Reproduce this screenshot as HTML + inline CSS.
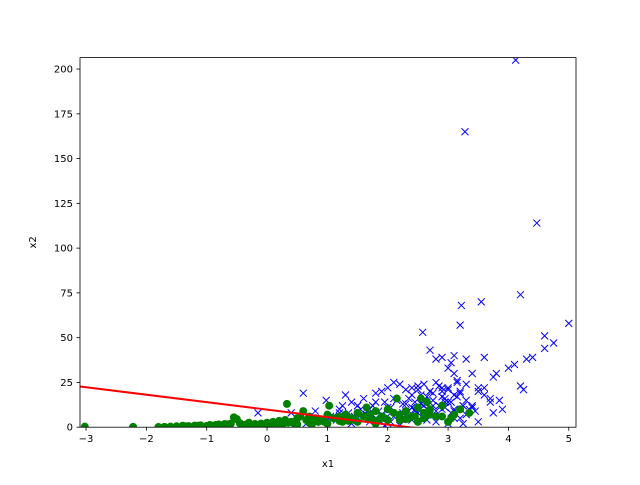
<!DOCTYPE html>
<html><head><meta charset="utf-8"><style>
body{margin:0;background:#fff;}
svg text{font-family:"DejaVu Sans","Liberation Sans",sans-serif;font-size:10px;fill:#000;}
</style></head><body>
<svg id="chart" width="640" height="480" xmlns="http://www.w3.org/2000/svg">
<rect width="640" height="480" fill="#fff"/>
<g id="marks"></g>
<g id="axes"></g>
</svg>
<script>
const xTicks=[-3,-2,-1,0,1,2,3,4,5];
const yTicks=[0,25,50,75,100,125,150,175,200];
const blueX=[4.12,3.28,4.47,4.2,3.55,3.22,3.2,2.58,5.0,4.6,4.75,4.6,4.4,4.3,4.1,4.0,4.2,4.25,3.85,3.75,3.75,3.8,3.6,3.5,3.3,3.1,3.05,2.7,2.8,2.9,3.0,3.1,0.6,0.98,-0.15,0.4,0.8,
1.3,1.4,1.5,1.6,1.7,1.8,1.9,2.0,2.1,2.2,2.3,2.4,2.5,2.6,2.7,2.8,2.9,3.0,3.1,3.2,3.3,3.4,3.5,3.6,3.7,
1.35,1.45,1.55,1.65,1.75,1.85,1.95,2.05,2.15,2.25,2.35,2.45,2.55,2.65,2.75,2.85,2.95,3.05,3.15,3.25,3.35,3.45,
1.0,1.1,1.2,1.25,1.5,1.7,1.9,2.1,2.3,2.5,2.7,2.9,3.1,3.3,3.5,2.0,2.2,2.4,2.6,2.8,3.0,3.2,2.6,2.75,2.9,3.15,3.4,3.6,3.7,3.9,
0.7,0.9,1.05,1.15,1.6,1.8,2.05,2.25,2.45,2.65,2.85,3.05,3.25,2.4,2.55,2.7,2.95,3.1,1.4,1.95,
0.5,0.65,0.85,1.0,1.15,1.3,1.45,1.6,1.75,1.9,2.05,2.2,2.35,2.5,2.65,2.8,2.95,3.1,3.25,3.4,
1.2,1.5,1.8,2.1,2.4,2.7,3.0,3.3,2.3,2.6,2.9,3.2,2.0,2.5,2.85,3.15,2.2,2.45,2.75,3.0];
const blueY=[205,165,114,74,70,68,57,53,58,51,47,44,39,38,35,33,23,21,15,8,28,30,39,20,38,40,36,43,38,39,33,30,19,15,8,8,9,
18,14,12,16,10,19,20,22,25,24,21,22,23,24,20,25,22,21,18,20,15,12,22,18,14,
8,6,10,7,12,9,14,11,15,13,16,14,18,17,19,12,16,14,17,12,10,9,
4,6,8,12,5,3,7,6,9,4,8,10,5,7,3,2,1,4,6,3,2,5,12,15,20,25,30,22,16,10,
5,3,6,4,7,5,3,8,10,4,6,8,2,11,13,7,14,9,2,1,
3,2,4,3,5,4,6,5,7,6,8,7,9,8,10,9,11,10,12,11,
10,12,14,16,18,20,22,24,13,15,17,19,11,21,23,26,6,9,12,14];
const greenX=[-3.02,-2.22,-1.8,-1.7,-1.6,-1.5,-1.4,-1.3,-1.2,-1.1,-1.0,-0.95,-0.9,-0.8,-0.75,-0.7,-0.6,-0.55,-0.5,-0.45,-0.4,-0.3,-0.2,-0.1,0,0.1,0.15,0.2,0.3,0.33,0.4,0.5,0.55,0.6,0.65,0.7,0.8,0.9,1.0,1.03,1.1,1.2,1.3,1.4,1.5,1.6,1.65,1.7,1.8,1.9,2.0,2.1,2.15,2.2,2.3,2.4,2.5,2.55,2.6,2.7,2.8,2.9,3.0,3.05,3.1,3.2,3.35,2.0,1.5,1.0,0.5,2.5,1.8,2.2,0.25,0.75,1.25,1.75,2.35,2.65,-0.25,-0.65,0.05,
-1.35,-1.15,-0.85,-0.65,-0.35,-0.15,0.0,0.2,0.45,0.7,0.95,1.2,1.45,1.7,1.95,2.2,2.45,2.7,0.35,0.85,1.35,1.85,2.3,2.6,2.9];
const greenY=[0.3,0.2,0.1,0.2,0.3,0.5,0.8,0.6,0.9,1.0,0.7,1.2,0.9,1.5,1.0,1.8,2.0,5.5,4.5,2.2,1.3,2.5,1.8,2.0,2.5,3,2,3.5,4,13,3,5,6,9,4,6,5,4,7,12,5,6,7,5,8,6,11,7,9,6,10,8,16,7,9,6,11,16,8,10,6,12,3,5,7,10,8,4,3,2,1.5,3,2,4,1,2,3,4,5,14,0.8,1.2,1.5,
0.5,0.8,1.2,1.6,1.5,1.2,1.0,1.5,2,2.5,3,3.5,4,4.5,5,5.5,6,7,2.5,3,3.5,4,4.5,5,6];
const lineX=[-3.1,5.12];
const lineIntercept=9.8, lineSlope=-4.17;

const L=80,R=576,T=57.6,B=427.2;
const xmin=-3.1,xmax=5.12,ymin=0,ymax=206.4;
const sx=v=>L+(v-xmin)/(xmax-xmin)*(R-L);
const sy=v=>B-(v-ymin)/(ymax-ymin)*(B-T);
const NS="http://www.w3.org/2000/svg";
const marks=document.getElementById('marks'), axes=document.getElementById('axes');
function mk(tag,attrs,parent){const e=document.createElementNS(NS,tag);for(const k in attrs)e.setAttribute(k,attrs[k]);parent.appendChild(e);return e;}
const clip=mk('clipPath',{id:'pa'},marks);mk('rect',{x:L,y:T,width:R-L,height:B-T},clip);
const g=mk('g',{'clip-path':'url(#pa)'},marks);
for(let i=0;i<blueX.length;i++){
 const x=sx(blueX[i]),y=sy(blueY[i]),d=3.5;
 const p=mk('path',{d:`M${x-d},${y-d}L${x+d},${y+d}M${x-d},${y+d}L${x+d},${y-d}`,stroke:'#0000ff','stroke-width':1,fill:'none'},g);
 
 
}
for(let i=0;i<greenX.length;i++){
 const c=mk('circle',{cx:sx(greenX[i]),cy:sy(greenY[i]),r:4,fill:'#008000'},g);
 
 
}
const ln=mk('line',{x1:sx(lineX[0]),y1:sy(lineIntercept+lineSlope*lineX[0]),x2:sx(lineX[1]),y2:sy(lineIntercept+lineSlope*lineX[1]),stroke:'#ff0000','stroke-width':2},g);


const fr=mk('rect',{x:L,y:T,width:R-L,height:B-T,fill:'none',stroke:'#000','stroke-width':0.8},axes);


xTicks.forEach(t=>{const x=sx(t);mk('line',{x1:x,y1:B,x2:x,y2:B+3.5,stroke:'#000','stroke-width':0.8},axes);
 const tx=mk('text',{x:x,y:B+15,'text-anchor':'middle'},axes);tx.textContent=(t<0?'\u2212'+(-t):t);
 
 });
yTicks.forEach(t=>{const y=sy(t);mk('line',{x1:L,y1:y,x2:L-3.5,y2:y,stroke:'#000','stroke-width':0.8},axes);
 const tx=mk('text',{x:L-7,y:y+3.5,'text-anchor':'end'},axes);tx.textContent=t;
 
 });
const xl=mk('text',{x:(L+R)/2,y:467,'text-anchor':'middle'},axes);xl.textContent='x1';


const yl=mk('text',{x:36,y:(T+B)/2,'text-anchor':'middle',transform:`rotate(-90 36 ${(T+B)/2})`},axes);yl.textContent='x2';


</script>
</body></html>
